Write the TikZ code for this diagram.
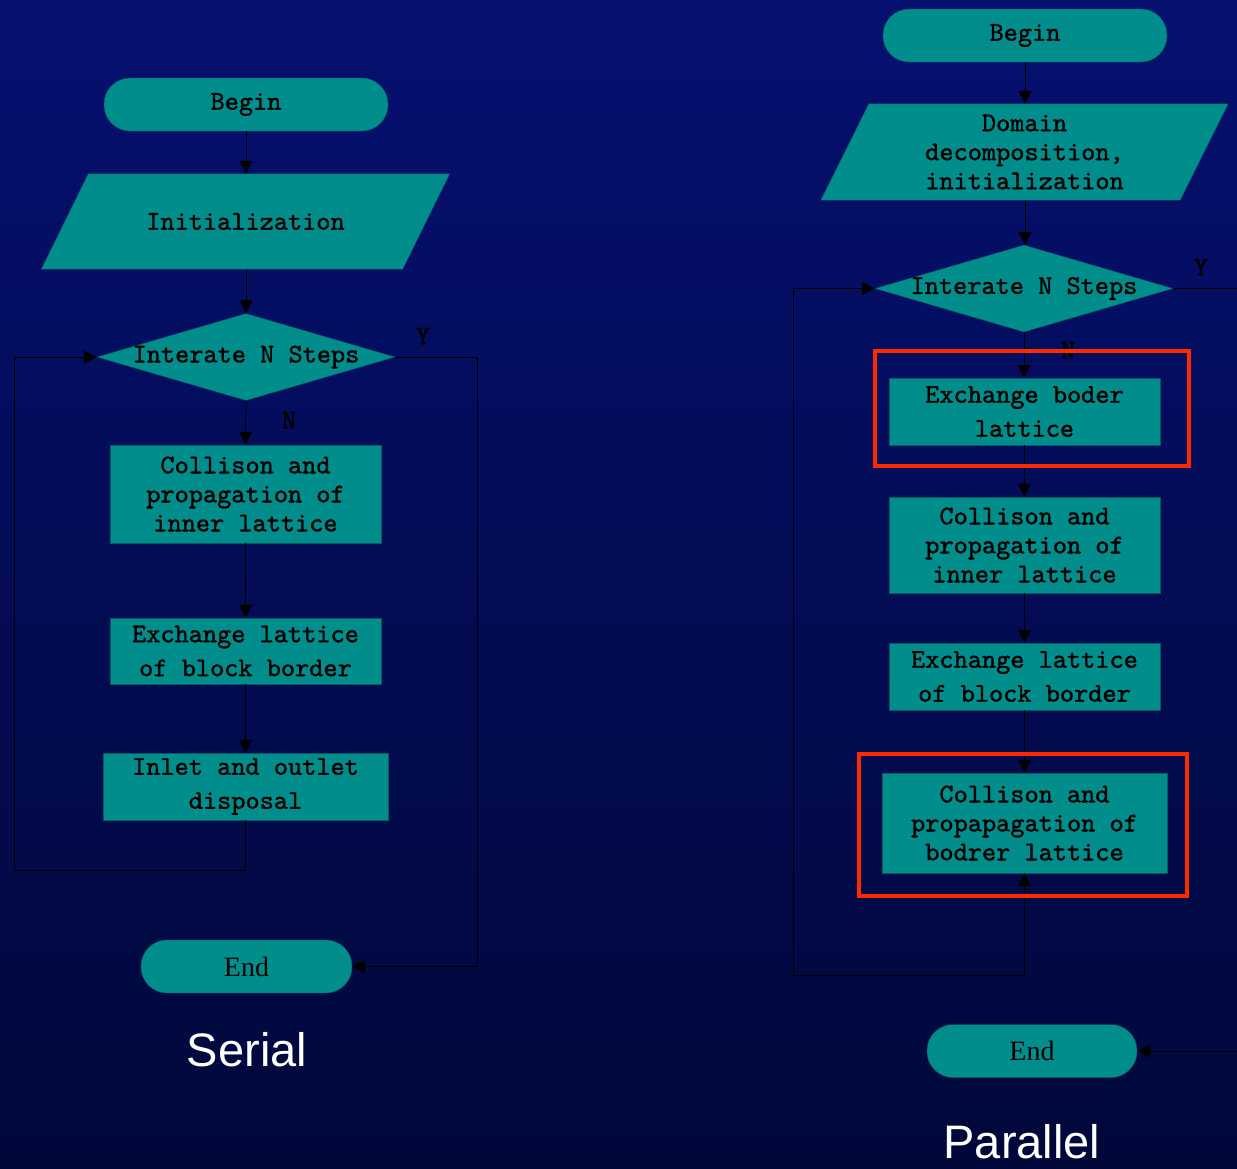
\documentclass[tikz,border=0pt]{standalone}
\usepackage{fontspec}
\newfontfamily\endfont{Liberation Serif}
\newfontfamily\capfont{Liberation Sans}
\newfontfamily\monof{lmmono10-regular.otf}[FakeBold=1.3]
\usetikzlibrary{shapes.geometric,arrows.meta,calc}
\definecolor{tealfill}{RGB}{0,141,139}
\definecolor{tealedge}{RGB}{0,92,96}
\definecolor{bgtop}{RGB}{6,16,112}
\definecolor{bgbot}{RGB}{0,8,58}
\definecolor{hired}{RGB}{255,40,0}
\tikzset{
  mono/.style={font=\monof\fontsize{27}{29}\selectfont},
  monowide/.style={font=\monof\fontsize{27}{34}\selectfont},
  terminal/.style={draw=tealedge, fill=tealfill, rectangle, rounded corners=26pt, minimum height=53pt, inner sep=0pt},
  stepbox/.style={draw=tealedge, fill=tealfill, rectangle, inner sep=0pt, align=center},
  paranode/.style={rectangle, inner sep=0pt, align=center, mono},
  paraface/.style={draw=tealedge, fill=tealfill},
  decide/.style={draw=tealedge, fill=tealfill, diamond, inner sep=0pt, minimum width=298pt, minimum height=87pt},
  conn/.style={draw=black, line width=0.8pt},
  arr/.style={conn, -{Triangle[length=13pt,width=13pt]}},
  arrboth/.style={conn, {Triangle[length=13pt,width=13pt]}-{Triangle[length=13pt,width=13pt]}},
  yn/.style={font=\monof\fontsize{27}{29}\selectfont, text=black},
  redframe/.style={draw=hired, line width=4pt, rectangle, inner sep=0pt},
  caption/.style={font=\capfont\fontsize{47}{50}\selectfont, text=white}
}
\begin{document}
\begin{tikzpicture}[x=1pt,y=-1pt]
\useasboundingbox (0,0) rectangle (1237,1168);
\shade[top color=bgtop, bottom color=bgbot] (0,0) rectangle (1237,1168);

% ---------------- Serial ----------------
\node[terminal, minimum width=284pt, mono] (sb) at (246,104.5) {\raisebox{-2pt}{Begin}};
\node[paranode, minimum width=408pt, minimum height=95pt] (sp) at (245.5,221.5) {};
\path[paraface] ($(sp.north west)+(47,0)$) -- (sp.north east) -- ($(sp.south east)+(-47,0)$) -- (sp.south west) -- cycle;
\node[mono] at (sp) {Initialization};
\node[decide] (sd) at (246,357) {};
\node[mono] at (sd) {Interate N Steps};
\node[stepbox, minimum width=271pt, minimum height=98pt, mono] (s1) at (245.5,494) {Collison and\\propagation of\\inner lattice};
\node[stepbox, minimum width=271pt, minimum height=66pt, monowide] (s2) at (245.5,651) {Exchange lattice\\of block border};
\node[stepbox, minimum width=285pt, minimum height=67pt, monowide] (s3) at (245.5,786.5) {Inlet and outlet\\disposal};
\node[terminal, minimum width=211pt, font=\endfont\fontsize{28}{30}\selectfont] (se) at (246.5,966.5) {End};

\draw[arr] (sb.south) -- (sb.south |- sp.north);
\draw[arr] (sb.south |- sp.south) -- (sd.north);
\draw[arr] (sd.south) -- (s1.north);
\draw[arr] (s1.south) -- (s2.north);
\draw[arr] (s2.south) -- (s3.north);
\draw[arr] (sd.east) -- ++(82,0) |- (se.east);
\draw[arr] (s3.south) -- ++(0,50) -| (14,357) -- (sd.west);
\node[yn] (sY) at (423,336) {Y};
\node[yn] (sN) at (289,420) {N};
\node[caption] (sc) at (247,1050) {Serial};

% ---------------- Parallel ----------------
\node[terminal, minimum width=284pt, mono] (pb) at (1025,35.5) {\raisebox{-2pt}{Begin}};
\node[paranode, minimum width=407pt, minimum height=96pt] (pp) at (1024.5,152) {};
\path[paraface] ($(pp.north west)+(48,0)$) -- (pp.north east) -- ($(pp.south east)+(-48,0)$) -- (pp.south west) -- cycle;
\node[mono, align=center] at (pp) {Domain\\decomposition,\\initialization};
\node[decide] (pd) at (1024,288.5) {};
\node[mono] at (pd) {Interate N Steps};
\node[stepbox, minimum width=271pt, minimum height=67pt, monowide] (p1) at (1024.5,411.5) {Exchange boder\\lattice};
\node[stepbox, minimum width=271pt, minimum height=96pt, mono] (p2) at (1024.5,545) {Collison and\\propagation of\\inner lattice};
\node[stepbox, minimum width=271pt, minimum height=67pt, monowide] (p3) at (1024.5,676.5) {Exchange lattice\\of block border};
\node[stepbox, minimum width=285pt, minimum height=100pt, mono] (p4) at (1024.5,823) {Collison and\\propapagation of\\bodrer lattice};
\node[terminal, minimum width=210pt, font=\endfont\fontsize{28}{30}\selectfont] (pe) at (1032,1051) {End};

\draw[arr] (pb.south) -- (pb.south |- pp.north);
\draw[arr] (pb.south |- pp.south) -- (pb.south |- pd.north);
\draw[arr] (pd.south) -- (pd.south |- p1.north);
\draw[arr] (p1.south) -- (p2.north);
\draw[arr] (p2.south) -- (p3.north);
\draw[arr] (p3.south) -- (p4.north);
\draw[arrboth] (p4.south) -- ++(0,102) -| (793,288.5) -- (pd.west);
\draw[arr] (pd.east) -- (1262,288.5) |- (pe.east);
\node[yn] (pY) at (1201,267) {Y};
\node[yn] (pN) at (1068,350) {N};
\node[redframe, minimum width=314pt, minimum height=115pt] (rf1) at (1032,408.5) {};
\node[redframe, minimum width=328pt, minimum height=142pt] (rf2) at (1023,825) {};
\node[caption] (pc) at (1022,1142) {Parallel};
\end{tikzpicture}
\end{document}
